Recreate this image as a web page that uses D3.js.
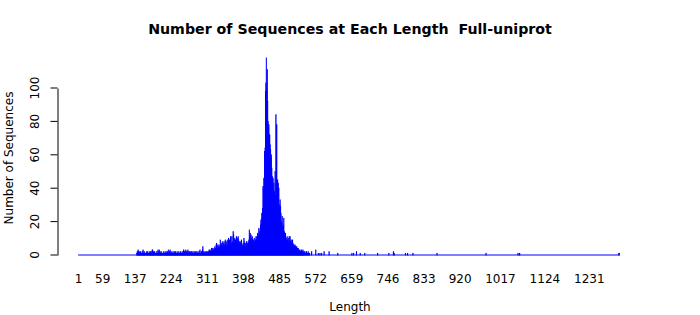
<!DOCTYPE html>
<html>
<head>
<meta charset="utf-8">
<script src="https://cdn.jsdelivr.net/npm/d3@7"></script>
<style>
  body { margin: 0; background: #fff; }
  text { font-family: "DejaVu Sans", sans-serif; fill: #000; }
</style>
</head>
<body>
<div id="chart"></div>
<script>
// counts of sequences per length; categories are every length 1..maxLength
const maxLength = 1304;
const denseStart = 140;
const denseCounts = [
  0, 0, 1, 2, 1, 3, 2, 1, 2, 1,
  1, 2, 0, 1, 1, 2, 1, 3, 1, 1,
  2, 1, 1, 0, 1, 2, 1, 1, 2, 1,
  1, 0, 2, 1, 1, 2, 1, 1, 2, 3,
  3, 1, 2, 1, 1, 2, 1, 0, 1, 1,
  2, 1, 1, 3, 2, 1, 3, 1, 2, 1,
  1, 2, 1, 1, 0, 1, 2, 1, 1, 1,
  2, 1, 1, 2, 1, 1, 2, 1, 3, 1,
  1, 2, 3, 1, 1, 2, 1, 1, 1, 2,
  1, 1, 2, 1, 1, 2, 1, 1, 1, 2,
  1, 1, 1, 2, 1, 1, 1, 2, 1, 1,
  1, 2, 1, 1, 2, 3, 1, 2, 2, 1,
  3, 2, 1, 2, 1, 3, 2, 1, 1, 2,
  1, 2, 1, 1, 2, 1, 1, 2, 1, 1,
  2, 1, 1, 2, 1, 2, 1, 1, 1, 2,
  1, 1, 2, 1, 3, 1, 1, 2, 2, 1,
  3, 5, 2, 1, 2, 1, 1, 2, 1, 1,
  2, 1, 1, 2, 2, 1, 3, 2, 3, 2,
  2, 3, 4, 2, 3, 4, 2, 3, 4, 3,
  5, 3, 4, 6, 7, 4, 3, 6, 5, 4,
  6, 4, 5, 9, 5, 7, 6, 4, 8, 6,
  7, 5, 8, 6, 4, 9, 7, 8, 6, 5,
  9, 6, 8, 10, 7, 9, 5, 8, 11, 7,
  6, 11, 8, 7, 14, 12, 9, 7, 10, 6,
  9, 5, 11, 8, 10, 6, 11, 9, 7, 8,
  6, 8, 7, 5, 9, 4, 6, 5, 7, 6,
  10, 8, 5, 7, 4, 6, 8, 5, 7, 6,
  8, 7, 9, 15, 11, 13, 9, 12, 8, 10,
  11, 9, 7, 9, 8, 10, 7, 8, 9, 11,
  8, 11, 10, 13, 9, 12, 16, 14, 12, 15,
  18, 21, 19, 25, 22, 28, 41, 40, 46, 38,
  62, 64, 98, 103, 118, 99, 111, 92, 80, 76,
  78, 70, 72, 66, 63, 58, 60, 52, 47, 45,
  46, 40, 43, 38, 36, 50, 35, 84, 40, 78,
  42, 45, 38, 43, 40, 30, 28, 33, 29, 25,
  20, 19, 23, 17, 16, 18, 22, 14, 13, 11,
  13, 9, 10, 8, 11, 9, 7, 10, 8, 11,
  9, 11, 8, 7, 9, 6, 8, 9, 7, 6,
  5, 6, 4, 6, 5, 3, 4, 5, 3, 4,
  3, 4, 2, 3, 2, 3, 2, 2, 1, 3,
  2, 1, 3, 2, 1, 2, 1, 2, 1, 0,
  1, 2, 0, 1, 1, 2, 0, 1, 1, 0
];
const tailLengths = [563, 573, 579, 583, 587, 593, 605, 626, 660, 664, 671, 680, 691, 722, 749, 760, 762, 789, 794, 807, 865, 983, 1060, 1064, 1303, 1304];
const tailCounts  = [2, 3, 1, 1, 1, 2, 2, 1, 1, 1, 2, 1, 1, 1, 1, 2, 1, 1, 1, 1, 1, 1, 1, 1, 1, 1];
const xTickLabels = [1, 59, 137, 224, 311, 398, 485, 572, 659, 746, 833, 920, 1017, 1124, 1231];
const yTicks = [0, 20, 40, 60, 80, 100];

const width = 700;
const height = 315;

const lengths = d3.range(1, maxLength + 1);
const countByLength = new Map(lengths.map((len) => [len, 0]));
denseCounts.forEach((c, i) => countByLength.set(denseStart + i, c));
tailLengths.forEach((len, i) => countByLength.set(len, tailCounts[i]));
const data = lengths.map((len) => ({ length: len, count: countByLength.get(len) }));

const x = d3.scaleBand()
  .domain(lengths)
  .range([78.1, 619.5])
  .paddingInner(0.1667)
  .paddingOuter(0.0833);

const y = d3.scaleLinear()
  .domain([0, 100])
  .range([255, 88]);

const svg = d3.select('#chart')
  .append('svg')
  .attr('width', width)
  .attr('height', height);

svg.append('text')
  .attr('x', 350)
  .attr('y', 34)
  .attr('text-anchor', 'middle')
  .attr('font-size', 14.2)
  .attr('font-weight', 'bold')
  .attr('xml:space', 'preserve')
  .style('white-space', 'pre')
  .text('Number of Sequences at Each Length  Full-uniprot');

// zero-length bars show as a flat blue line
svg.append('line')
  .attr('x1', x(1))
  .attr('x2', x(maxLength) + x.bandwidth())
  .attr('y1', y(0))
  .attr('y2', y(0))
  .attr('stroke', 'blue')
  .attr('stroke-width', 1);

svg.append('g')
  .selectAll('rect')
  .data(data.filter((d) => d.count > 0))
  .join('rect')
  .attr('x', (d) => x(d.length))
  .attr('width', x.bandwidth())
  .attr('y', (d) => y(d.count))
  .attr('height', (d) => y(0) - y(d.count))
  .attr('fill', 'blue')
  .attr('stroke', 'blue')
  .attr('stroke-width', 0.8);

const yAxis = svg.append('g')
  .attr('transform', 'translate(57.5,0)')
  .call(d3.axisLeft(y).tickValues(yTicks).tickSize(7).tickSizeOuter(0).tickPadding(0));
yAxis.selectAll('path, line').attr('stroke', '#000');
yAxis.selectAll('text')
  .attr('font-size', 12)
  .attr('font-family', '"DejaVu Sans", sans-serif')
  .attr('text-anchor', 'middle')
  .attr('x', 0)
  .attr('dy', 0)
  .attr('transform', (d) => `translate(-19,${y(d)}) rotate(-90)`)
  .attr('y', 0);
yAxis.selectAll('.tick').attr('transform', null);
yAxis.selectAll('.tick line').attr('transform', (d) => `translate(0,${y(d)})`);

const xAxis = svg.append('g')
  .attr('transform', 'translate(0,283)')
  .call(d3.axisBottom(x).tickValues(xTickLabels).tickSize(0).tickPadding(0));
xAxis.select('.domain').remove();
xAxis.selectAll('text')
  .attr('font-size', 12)
  .attr('font-family', '"DejaVu Sans", sans-serif')
  .attr('dy', 0)
  .attr('y', 0);

svg.append('text')
  .attr('x', 350)
  .attr('y', 311)
  .attr('text-anchor', 'middle')
  .attr('font-size', 12)
  .text('Length');

svg.append('text')
  .attr('transform', 'translate(13,158) rotate(-90)')
  .attr('text-anchor', 'middle')
  .attr('font-size', 12)
  .text('Number of Sequences');
</script>
</body>
</html>
